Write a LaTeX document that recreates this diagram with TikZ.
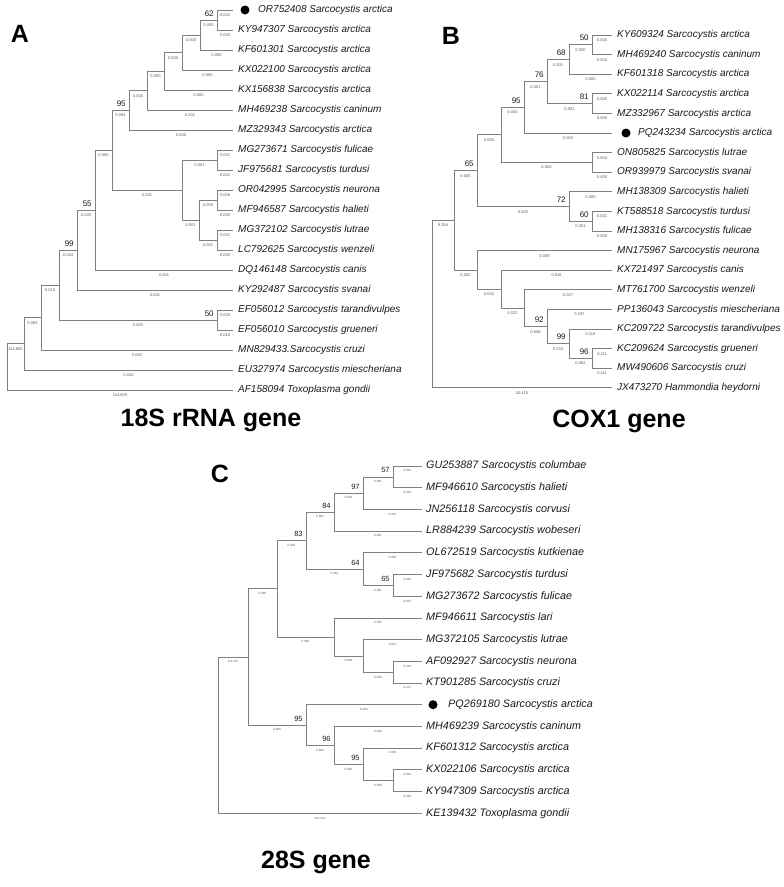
\documentclass[tikz,border=0pt]{standalone}
\usepackage{fontspec}
\setmainfont{Liberation Sans}

\tikzset{
  leaf/.style={anchor=west, inner xsep=5pt, inner ysep=0pt, text height=7.2pt, text depth=2pt,
    font=\fontsize{10}{12}\selectfont\itshape, text=black!90},
  blen/.style={pos=.75, below=3.4pt, inner sep=0pt, font=\fontsize{4}{4}\selectfont, text=black!65},
  boot/.style={pos=1, anchor=south east, inner sep=0pt, xshift=-3pt, yshift=3.5pt,
    font=\fontsize{8}{8}\selectfont, text=black!90},
  hitdot/.style={circle, fill=black, inner sep=0pt, minimum size=9pt},
  panel/.style={font=\fontsize{25}{25}\selectfont\bfseries},
  every edge/.style={draw=black!50, line width=.7pt, to path={|- (\tikztotarget) \tikztonodes}},
}

\begin{document}
\begin{tikzpicture}[x=1pt, y=-1pt]
  \useasboundingbox (0,0) rectangle (784,887);

  % panel letters and titles
  \node[panel] (pA) at (20,34) {A};
  \node[panel] (pB) at (451,36) {B};
  \node[panel] (pC) at (220,474) {C};
  \node[panel, anchor=base] (tA) at (211,426) {18S rRNA gene};
  \node[panel, anchor=base] (tB) at (619,427) {COX1 gene};
  \node[panel, anchor=base] (tC) at (316,868) {28S gene};

  % tree A: 18S rRNA
  \begin{scope}[every node/.append style={}]
    \node[leaf, inner xsep=25pt] (A1) at (233,10) {OR752408 Sarcocystis arctica};
    \node[hitdot] (A1dot) at ([xshift=12pt]A1.west) {};
    \node[leaf] (A2)  at (233,30)  {KY947307 Sarcocystis arctica};
    \node[leaf] (A3)  at (233,50)  {KF601301 Sarcocystis arctica};
    \node[leaf] (A4)  at (233,70)  {KX022100 Sarcocystis arctica};
    \node[leaf] (A5)  at (233,90)  {KX156838 Sarcocystis arctica};
    \node[leaf] (A6)  at (233,110) {MH469238 Sarcocystis caninum};
    \node[leaf] (A7)  at (233,130) {MZ329343 Sarcocystis arctica};
    \node[leaf] (A8)  at (233,150) {MG273671 Sarcocystis fulicae};
    \node[leaf] (A9)  at (233,170) {JF975681 Sarcocystis turdusi};
    \node[leaf] (A10) at (233,190) {OR042995 Sarcocystis neurona};
    \node[leaf] (A11) at (233,210) {MF946587 Sarcocystis halieti};
    \node[leaf] (A12) at (233,230) {MG372102 Sarcocystis lutrae};
    \node[leaf] (A13) at (233,250) {LC792625 Sarcocystis wenzeli};
    \node[leaf] (A14) at (233,270) {DQ146148 Sarcocystis canis};
    \node[leaf] (A15) at (233,290) {KY292487 Sarcocystis svanai};
    \node[leaf] (A16) at (233,310) {EF056012 Sarcocystis tarandivulpes};
    \node[leaf] (A17) at (233,330) {EF056010 Sarcocystis grueneri};
    \node[leaf] (A18) at (233,350) {MN829433.Sarcocystis cruzi};
    \node[leaf] (A19) at (233,370) {EU327974 Sarcocystis miescheriana};
    \node[leaf] (A20) at (233,390) {AF158094 Toxoplasma gondii};

    \coordinate (n1)  at (217,20);
    \coordinate (n2)  at (200,35);
    \coordinate (n3)  at (182,52.5);
    \coordinate (n4)  at (164,71.25);
    \coordinate (n5)  at (147,90.6);
    \coordinate (n6)  at (129,110.3);
    \coordinate (n7)  at (217,160);
    \coordinate (n8)  at (217,200);
    \coordinate (n9)  at (217,240);
    \coordinate (n10) at (199,220);
    \coordinate (n11) at (182,190);
    \coordinate (n12) at (112,150.15);
    \coordinate (n13) at (95,210);
    \coordinate (n14) at (77,250);
    \coordinate (n15) at (217,320);
    \coordinate (n16) at (59,285);
    \coordinate (n17) at (41,317.5);
    \coordinate (n18) at (24,343.75);
    \coordinate (n19) at (7,366.9);

    \path (n1)  edge node[blen] {0.002} (A1) edge node[blen] {0.000} (A2);
    \path (n2)  edge node[blen] {0.000} node[boot] {62} (n1) edge node[blen] {0.000} (A3);
    \path (n3)  edge node[blen] {0.000} (n2) edge node[blen] {0.000} (A4);
    \path (n4)  edge node[blen] {0.000} (n3) edge node[blen] {0.000} (A5);
    \path (n5)  edge node[blen] {0.000} (n4) edge node[blen] {0.001} (A6);
    \path (n6)  edge node[blen] {0.000} (n5) edge node[blen] {0.000} (A7);
    \path (n7)  edge node[blen] {0.001} (A8) edge node[blen] {0.001} (A9);
    \path (n8)  edge node[blen] {0.006} (A10) edge node[blen] {0.000} (A11);
    \path (n9)  edge node[blen] {0.001} (A12) edge node[blen] {0.005} (A13);
    \path (n10) edge node[blen] {0.000} (n8) edge node[blen] {0.001} (n9);
    \path (n11) edge node[blen] {0.001} (n7) edge node[blen] {0.001} (n10);
    \path (n12) edge node[blen] {0.004} node[boot] {95} (n6) edge node[blen] {0.001} (n11);
    \path (n13) edge node[blen] {0.000} (n12) edge node[blen] {0.001} (A14);
    \path (n14) edge node[blen] {0.000} node[boot] {55} (n13) edge node[blen] {0.001} (A15);
    \path (n15) edge node[blen] {0.028} (A16) edge node[blen] {0.018} (A17);
    \path (n16) edge node[blen] {0.044} node[boot] {99} (n14) edge node[blen] {0.002} node[boot] {50} (n15);
    \path (n17) edge node[blen] {0.010} (n16) edge node[blen] {0.062} (A18);
    \path (n18) edge node[blen] {0.083} (n17) edge node[blen] {0.020} (A19);
    \path (n19) edge node[blen] {114.683} (n18) edge node[blen] {114.829} (A20);
  \end{scope}

  % tree B: COX1
  \begin{scope}
    \node[leaf] (B1)  at (612,35)    {KY609324 Sarcocystis arctica};
    \node[leaf] (B2)  at (612,54.6)  {MH469240 Sarcocystis caninum};
    \node[leaf] (B3)  at (612,74.2)  {KF601318 Sarcocystis arctica};
    \node[leaf] (B4)  at (612,93.8)  {KX022114 Sarcocystis arctica};
    \node[leaf] (B5)  at (612,113.4) {MZ332967 Sarcocystis arctica};
    \node[leaf, inner xsep=26pt] (B6) at (612,133) {PQ243234 Sarcocystis arctica};
    \node[hitdot] (B6dot) at ([xshift=14pt]B6.west) {};
    \node[leaf] (B7)  at (612,152.6) {ON805825 Sarcocystis lutrae};
    \node[leaf] (B8)  at (612,172.2) {OR939979 Sarcocystis svanai};
    \node[leaf] (B9)  at (612,191.8) {MH138309 Sarcocystis halieti};
    \node[leaf] (B10) at (612,211.4) {KT588518 Sarcocystis turdusi};
    \node[leaf] (B11) at (612,231)   {MH138316 Sarcocystis fulicae};
    \node[leaf] (B12) at (612,250.6) {MN175967 Sarcocystis neurona};
    \node[leaf] (B13) at (612,270.2) {KX721497 Sarcocystis canis};
    \node[leaf] (B14) at (612,289.8) {MT761700 Sarcocystis wenzeli};
    \node[leaf] (B15) at (612,309.4) {PP136043 Sarcocystis miescheriana};
    \node[leaf] (B16) at (612,329)   {KC209722 Sarcocystis tarandivulpes};
    \node[leaf] (B17) at (612,348.6) {KC209624 Sarcocystis grueneri};
    \node[leaf] (B18) at (612,368.2) {MW490606 Sarcocystis cruzi};
    \node[leaf] (B19) at (612,387.8) {JX473270 Hammondia heydorni};

    \coordinate (m1)  at (592,44.8);
    \coordinate (m2)  at (569,59.5);
    \coordinate (m3)  at (592,103.6);
    \coordinate (m4)  at (547,81.55);
    \coordinate (m5)  at (524,107.3);
    \coordinate (m6)  at (592,162.4);
    \coordinate (m7)  at (501,134.8);
    \coordinate (m8)  at (592,221.2);
    \coordinate (m9)  at (569,206.5);
    \coordinate (m10) at (477,170.7);
    \coordinate (m11) at (592,358.4);
    \coordinate (m12) at (569,343.7);
    \coordinate (m13) at (547,326.5);
    \coordinate (m14) at (524,308.2);
    \coordinate (m15) at (501,289.2);
    \coordinate (m16) at (477,269.9);
    \coordinate (m17) at (454,220.3);
    \coordinate (m18) at (432,304);

    \path (m1)  edge node[blen] {0.000} (B1) edge node[blen] {0.004} (B2);
    \path (m2)  edge node[blen] {0.000} node[boot] {50} (m1) edge node[blen] {0.000} (B3);
    \path (m3)  edge node[blen] {0.000} (B4) edge node[blen] {0.000} (B5);
    \path (m4)  edge node[blen] {0.001} node[boot] {68} (m2) edge node[blen] {0.001} node[boot] {81} (m3);
    \path (m5)  edge node[blen] {0.001} node[boot] {76} (m4) edge node[blen] {0.002} (B6);
    \path (m6)  edge node[blen] {0.004} (B7) edge node[blen] {0.000} (B8);
    \path (m7)  edge node[blen] {0.004} node[boot] {95} (m5) edge node[blen] {0.000} (m6);
    \path (m8)  edge node[blen] {0.001} (B10) edge node[blen] {0.000} (B11);
    \path (m9)  edge node[blen] {0.000} (B9) edge node[blen] {0.001} node[boot] {60} (m8);
    \path (m10) edge node[blen] {0.000} (m7) edge node[blen] {0.002} node[boot] {72} (m9);
    \path (m11) edge node[blen] {0.111} (B17) edge node[blen] {0.111} (B18);
    \path (m12) edge node[blen] {0.118} (B16) edge node[blen] {0.082} node[boot] {96} (m11);
    \path (m13) edge node[blen] {0.197} (B15) edge node[blen] {0.234} node[boot] {99} (m12);
    \path (m14) edge node[blen] {0.027} (B14) edge node[blen] {0.608} node[boot] {92} (m13);
    \path (m15) edge node[blen] {0.016} (B13) edge node[blen] {0.022} (m14);
    \path (m16) edge node[blen] {0.009} (B12) edge node[blen] {0.002} (m15);
    \path (m17) edge node[blen] {0.005} node[boot] {65} (m10) edge node[blen] {0.002} (m16);
    \path (m18) edge node[blen] {9.354} (m17) edge node[blen] {10.415} (B19);
  \end{scope}

  % tree C: 28S
  \begin{scope}[leaf/.append style={font=\fontsize{10.8}{12}\selectfont\itshape, text height=7.8pt, text depth=2.2pt, inner xsep=4pt},
                blen/.append style={font=\fontsize{3}{3}\selectfont},
                boot/.append style={font=\fontsize{7.5}{8}\selectfont}]
    \node[leaf] (C1)  at (422,466)   {GU253887 Sarcocystis columbae};
    \node[leaf] (C2)  at (422,487.7) {MF946610 Sarcocystis halieti};
    \node[leaf] (C3)  at (422,509.4) {JN256118 Sarcocystis corvusi};
    \node[leaf] (C4)  at (422,531.1) {LR884239 Sarcocystis wobeseri};
    \node[leaf] (C5)  at (422,552.8) {OL672519 Sarcocystis kutkienae};
    \node[leaf] (C6)  at (422,574.5) {JF975682 Sarcocystis turdusi};
    \node[leaf] (C7)  at (422,596.2) {MG273672 Sarcocystis fulicae};
    \node[leaf] (C8)  at (422,617.9) {MF946611 Sarcocystis lari};
    \node[leaf] (C9)  at (422,639.6) {MG372105 Sarcocystis lutrae};
    \node[leaf] (C10) at (422,661.3) {AF092927 Sarcocystis neurona};
    \node[leaf] (C11) at (422,683)   {KT901285 Sarcocystis cruzi};
    \node[leaf, inner xsep=26pt] (C12) at (422,704.7) {PQ269180 Sarcocystis arctica};
    \node[hitdot] (C12dot) at ([xshift=11pt]C12.west) {};
    \node[leaf] (C13) at (422,726.4) {MH469239 Sarcocystis caninum};
    \node[leaf] (C14) at (422,748.1) {KF601312 Sarcocystis arctica};
    \node[leaf] (C15) at (422,769.8) {KX022106 Sarcocystis arctica};
    \node[leaf] (C16) at (422,791.5) {KY947309 Sarcocystis arctica};
    \node[leaf] (C17) at (422,813.2) {KE139432 Toxoplasma gondii};

    \coordinate (k1)  at (393,476.85);
    \coordinate (k2)  at (363,493.1);
    \coordinate (k3)  at (334,512.1);
    \coordinate (k4)  at (393,585.35);
    \coordinate (k5)  at (363,569.1);
    \coordinate (k6)  at (306,540.6);
    \coordinate (k7)  at (393,672.15);
    \coordinate (k8)  at (363,655.9);
    \coordinate (k9)  at (334,636.9);
    \coordinate (k10) at (277,588.75);
    \coordinate (k11) at (393,780.65);
    \coordinate (k12) at (363,764.4);
    \coordinate (k13) at (334,745.4);
    \coordinate (k14) at (306,725.05);
    \coordinate (k15) at (248,656.9);
    \coordinate (k16) at (218,735);

    \path (k1)  edge node[blen] {0.001} (C1) edge node[blen] {0.003} (C2);
    \path (k2)  edge node[blen] {0.001} node[boot] {57} (k1) edge node[blen] {0.001} (C3);
    \path (k3)  edge node[blen] {0.004} node[boot] {97} (k2) edge node[blen] {0.001} (C4);
    \path (k4)  edge node[blen] {0.002} (C6) edge node[blen] {0.007} (C7);
    \path (k5)  edge node[blen] {0.004} (C5) edge node[blen] {0.001} node[boot] {65} (k4);
    \path (k6)  edge node[blen] {0.002} node[boot] {84} (k3) edge node[blen] {0.001} node[boot] {64} (k5);
    \path (k7)  edge node[blen] {0.010} (C10) edge node[blen] {0.227} (C11);
    \path (k8)  edge node[blen] {0.011} (C9) edge node[blen] {0.008} (k7);
    \path (k9)  edge node[blen] {0.005} (C8) edge node[blen] {0.003} (k8);
    \path (k10) edge node[blen] {0.005} node[boot] {83} (k6) edge node[blen] {0.000} (k9);
    \path (k11) edge node[blen] {0.001} (C15) edge node[blen] {0.000} (C16);
    \path (k12) edge node[blen] {0.000} (C14) edge node[blen] {0.000} (k11);
    \path (k13) edge node[blen] {0.000} (C13) edge node[blen] {0.000} node[boot] {95} (k12);
    \path (k14) edge node[blen] {0.020} (C12) edge node[blen] {0.000} node[boot] {96} (k13);
    \path (k15) edge node[blen] {0.005} (k10) edge node[blen] {0.000} node[boot] {95} (k14);
    \path (k16) edge node[blen] {114.237} (k15) edge node[blen] {114.479} (C17);
  \end{scope}

\end{tikzpicture}
\end{document}
